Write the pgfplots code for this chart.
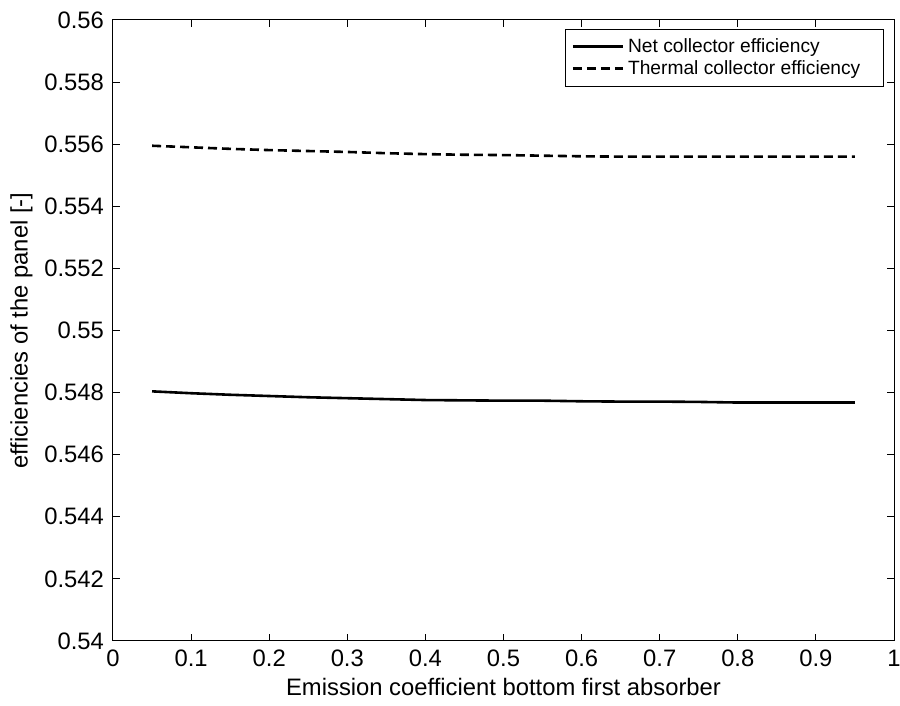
\documentclass[border=0pt]{standalone}
\usepackage{pgfplots}
\pgfplotsset{compat=1.18}
\usepackage{fontspec}
\setmainfont{Liberation Sans}
\begin{document}
\begin{tikzpicture}
\path[use as bounding box] (-56.5pt,-32.5pt) rectangle (393.5pt,320.5pt);
\begin{axis}[
  at={(0,0)}, anchor=south west,
  scale only axis,
  width=390.5pt, height=310.5pt,
  xmin=0, xmax=1, ymin=0.54, ymax=0.56,
  xtick={0,0.1,0.2,0.3,0.4,0.5,0.6,0.7,0.8,0.9,1},
  ytick={0.54,0.542,0.544,0.546,0.548,0.55,0.552,0.554,0.556,0.558,0.56},
  scaled y ticks=false, scaled x ticks=false,
  yticklabel style={/pgf/number format/fixed,/pgf/number format/precision=3, xshift=-1pt},
  xticklabel style={/pgf/number format/fixed,/pgf/number format/precision=1, yshift=-1pt},
  /pgf/number format/assume math mode=true,
  tick label style={font=\fontsize{11.9}{13}\selectfont},
  label style={font=\fontsize{11.9}{13}\selectfont},
  xlabel={Emission coefficient bottom first absorber},
  ylabel={efficiencies of the panel [-]},
  xlabel style={yshift=1pt},
  ylabel style={yshift=-1pt},
  tick align=inside, tickpos=both,
  major tick length=3.5pt,
  axis line style={line width=0.5pt},
  every tick/.style={black, line width=0.5pt},
  legend style={at={(0.987,0.986)}, anchor=north east, font=\fontsize{9.6}{11}\selectfont,
    draw=black, line width=0.5pt, cells={anchor=west}, inner xsep=3pt, inner ysep=2.5pt,
    row sep=-1.5pt},
  legend image code/.code={\draw[#1] (0pt,0pt) -- (25pt,0pt);},
  legend image post style={line width=1.3pt},
  legend cell align=left,
]
\addplot[black, line width=1.3pt] coordinates {
(0.05,0.54804)(0.10,0.54798)(0.15,0.54793)(0.20,0.54789)(0.25,0.54785)(0.30,0.54782)
(0.35,0.54779)(0.40,0.54776)(0.45,0.54775)(0.50,0.54774)(0.55,0.54774)(0.60,0.54772)
(0.65,0.54771)(0.70,0.54771)(0.75,0.54770)(0.80,0.54768)(0.85,0.54768)(0.90,0.54768)(0.95,0.54768)};
\addlegendentry{Net collector efficiency}
\addplot[black, line width=1.3pt, dash pattern=on 4.5pt off 2.5pt] coordinates {
(0.05,0.55595)(0.10,0.55590)(0.15,0.55585)(0.20,0.55581)(0.25,0.55578)(0.30,0.55575)
(0.35,0.55571)(0.40,0.55568)(0.45,0.55566)(0.50,0.55565)(0.55,0.55563)(0.60,0.55561)
(0.65,0.55560)(0.70,0.55560)(0.75,0.55560)(0.80,0.55560)(0.85,0.55560)(0.90,0.55560)(0.95,0.55560)};
\addlegendentry{Thermal collector efficiency\kern6.5pt}
\end{axis}
\end{tikzpicture}
\end{document}
